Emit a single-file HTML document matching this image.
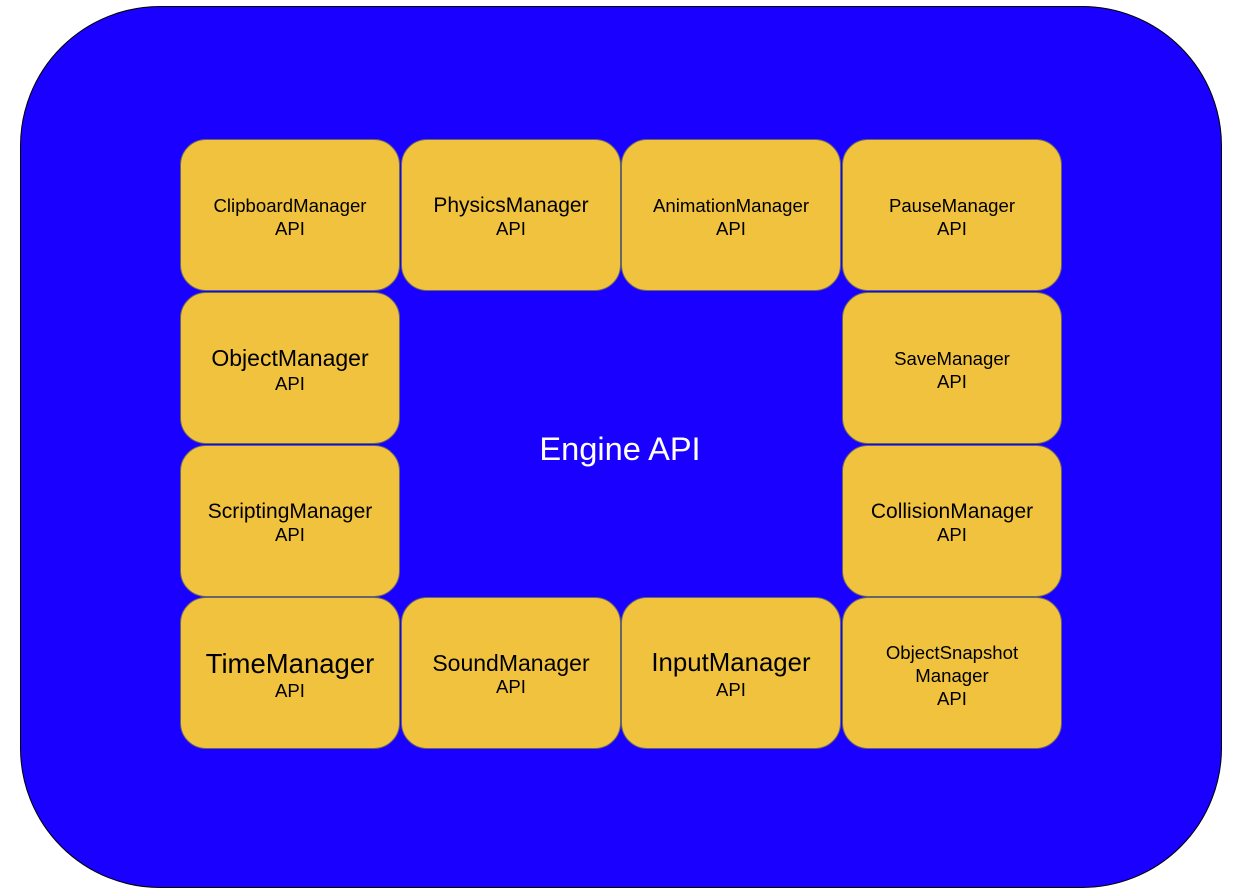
<!DOCTYPE html>
<html><head><style>
body{margin:0;width:1240px;height:896px;background:#fff;position:relative;overflow:hidden;font-family:"Liberation Sans",sans-serif}
.outer{position:absolute;left:20px;top:6px;width:1200px;height:880px;background:#1a00ff;border:1.5px solid #000;border-radius:140px}
.b{position:absolute;box-sizing:border-box;width:220px;height:152px;background:#f0c23e;border:1.5px solid #666;border-radius:26px;display:flex;flex-direction:column;align-items:center;justify-content:center;text-align:center;color:#000;font-size:18.6px;line-height:23px;padding-top:4px}
.t{position:absolute;left:420px;top:430px;width:400px;text-align:center;color:#fff;font-size:32.6px}
</style></head><body>
<div class="outer"></div>
<div class="b" style="left:180px;top:139px"><div>ClipboardManager</div><div>API</div></div>
<div class="b" style="left:401px;top:139px"><div style="font-size:21px">PhysicsManager</div><div>API</div></div>
<div class="b" style="left:621px;top:139px"><div>AnimationManager</div><div>API</div></div>
<div class="b" style="left:842px;top:139px"><div>PauseManager</div><div>API</div></div>
<div class="b" style="left:180px;top:292px"><div style="font-size:23px;line-height:27px">ObjectManager</div><div>API</div></div>
<div class="b" style="left:842px;top:292px"><div>SaveManager</div><div>API</div></div>
<div class="b" style="left:180px;top:445px"><div style="font-size:21px">ScriptingManager</div><div>API</div></div>
<div class="b" style="left:842px;top:445px"><div style="font-size:21px">CollisionManager</div><div>API</div></div>
<div class="b" style="left:180px;top:597px"><div style="font-size:27.5px;line-height:31px">TimeManager</div><div>API</div></div>
<div class="b" style="left:401px;top:597px"><div style="font-size:23px">SoundManager</div><div>API</div></div>
<div class="b" style="left:621px;top:597px"><div style="font-size:25.8px;line-height:29px">InputManager</div><div>API</div></div>
<div class="b" style="left:842px;top:597px"><div>ObjectSnapshot</div><div>Manager</div><div>API</div></div>
<div class="t">Engine API</div>
</body></html>
